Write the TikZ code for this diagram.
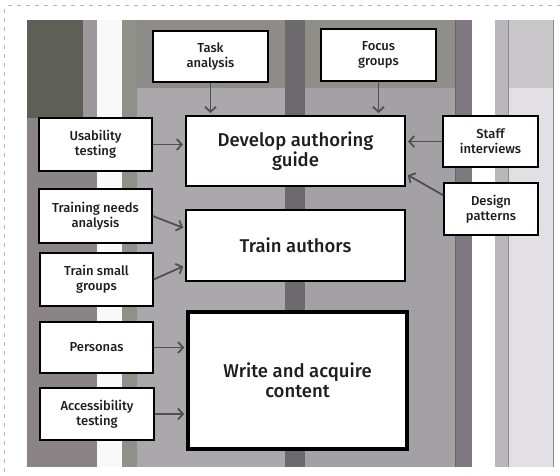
\documentclass[tikz,border=0pt]{standalone}
\usepackage{fontspec}
\setmainfont{Fira Sans Medium}
\usetikzlibrary{arrows.meta,calc}
\definecolor{bgbase}{HTML}{9B979B}
\definecolor{darktl}{HTML}{5E6058}
\definecolor{leftstrip}{HTML}{8A8487}
\definecolor{greenstrip}{HTML}{8F9088}
\definecolor{upperbg}{HTML}{8E8B88}
\definecolor{upperbgr}{HTML}{908E88}
\definecolor{darkv}{HTML}{6C6A6C}
\definecolor{innerA}{HTML}{ABA8AB}
\definecolor{innerB}{HTML}{A4A1A5}
\definecolor{rdark}{HTML}{7F7882}
\definecolor{rgray}{HTML}{B9B6BC}
\definecolor{rlight}{HTML}{C9C6CA}
\definecolor{rwhite}{HTML}{E2E0E5}
\definecolor{arrowgray}{HTML}{4F4F4F}
\definecolor{txt}{HTML}{1E1E1E}
\definecolor{dashgray}{HTML}{B5B5B5}
\tikzset{
  smallbox/.style={draw=black, line width=1.4pt, fill=white, align=center, inner sep=2pt,
    font=\fontsize{13}{15}\selectfont, text=txt},
  bigbox/.style={draw=black, line width=2pt, fill=white, align=center, inner sep=2pt,
    font=\fontsize{18.5}{20}\selectfont, text=txt, minimum width=219pt},
  flow/.style={draw=arrowgray, line width=1.8pt, -{Straight Barb[length=5pt,width=11pt]}, shorten >=2pt},
  dashborder/.style={draw=dashgray, line width=0.8pt, dash pattern=on 4pt off 5pt}
}
\begin{document}
\begin{tikzpicture}[x=1pt,y=-1pt]
\useasboundingbox (0,0) rectangle (560,475);
\fill[white] (0,0) rectangle (560,475);
% dashed border
\draw[dashborder] (8,5) -- (560,5);
\draw[dashborder] (4,9) -- (4,475);
% photographic background approximated
\fill[bgbase] (27,20) rectangle (553,467);
\fill[darktl] (27,20) rectangle (83,118);
\fill[leftstrip] (27,118) rectangle (97,467);
\fill[white!95!gray] (97,20) rectangle (122,467);
\fill[greenstrip] (122,20) rectangle (137,467);
\fill[upperbg] (137,20) rectangle (285,88);
\fill[upperbgr] (305,20) rectangle (455,88);
\fill[innerA] (137,88) rectangle (285,467);
\fill[innerB] (305,88) rectangle (455,467);
\fill[darkv] (285,20) rectangle (305,467);
\fill[rdark] (455,20) rectangle (472,467);
\draw[black!60, line width=0.6pt] (455,20) -- (455,467);
\fill[white] (472,20) rectangle (495,467);
\fill[rgray] (495,20) rectangle (508,467);
\fill[rlight] (508,20) rectangle (553,88);
\fill[rwhite] (508,88) rectangle (553,467);
\draw[black!45, line width=0.6pt] (508,20) -- (508,467);
\draw[black!45, line width=0.6pt] (553,20) -- (553,467);
% nodes
\node[smallbox, minimum width=115pt, minimum height=51pt] (task) at (210.5,56.5) {Task\\analysis};
\node[smallbox, minimum width=115pt, minimum height=52pt] (focus) at (378.5,55) {Focus\\groups};
\node[bigbox, minimum height=70pt] (dev) at (295.5,151) {Develop authoring\\guide};
\node[smallbox, minimum width=113pt, minimum height=53pt] (ut) at (95.5,144.5) {Usability\\testing};
\node[smallbox, minimum width=95pt, minimum height=51pt] (si) at (490.5,141.5) {Staff\\interviews};
\node[smallbox, minimum width=94pt, minimum height=52pt] (dp) at (491,209) {Design\\patterns};
\node[smallbox, minimum width=113pt, minimum height=54pt] (tna) at (95.5,216) {Training needs\\analysis};
\node[bigbox, minimum height=71pt] (ta) at (295.5,245.5) {Train authors};
\node[smallbox, minimum width=113pt, minimum height=53pt] (tsg) at (96.5,279.5) {Train small\\groups};
\node[smallbox, minimum width=113pt, minimum height=51pt] (per) at (96.5,347.5) {Personas};
\node[smallbox, minimum width=114pt, minimum height=52pt] (acc) at (97,414) {Accessibility\\testing};
\node[bigbox, line width=3.6pt, minimum height=137pt] (wac) at (297.5,380.5) {Write and acquire\\content};
% connectors
\draw[flow] (task.south) -- (task.south |- dev.north);
\draw[flow] (focus.south) -- (focus.south |- dev.north);
\draw[flow] (ut.east) -- (ut.east -| dev.west);
\draw[flow] (si.west) -- (si.west -| dev.east);
\draw[flow] ([yshift=-13pt]dp.north west) -- ([yshift=13pt]dev.south east);
\draw[flow] (tna.east) -- ([yshift=17pt]ta.west);
\draw[flow] (tsg.east) -- ([yshift=-20pt]ta.west);
\draw[flow] (per.east) -- (per.east -| wac.west);
\draw[flow] (acc.east) -- (acc.east -| wac.west);
\end{tikzpicture}
\end{document}
